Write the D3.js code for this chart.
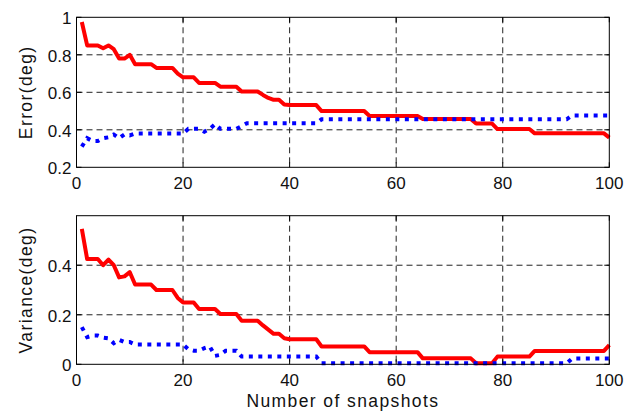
<!DOCTYPE html>
<html>
<head>
<meta charset="utf-8">
<script src="https://cdn.jsdelivr.net/npm/d3@7"></script>
<style>
    body { margin: 0; background: #fff; }
    text { font-family: "Liberation Sans", Arial, Helvetica, sans-serif; fill: #111; }
    .tick-label { font-size: 17px; }
    .axis-label { font-size: 17.5px; letter-spacing: 1.4px; }
    .grid-line { stroke: #222; stroke-width: 1; stroke-dasharray: 6,4; }
    .frame { fill: none; stroke: #000; stroke-width: 1; }
    .tick-mark { stroke: #000; stroke-width: 1; }
    .red-line { fill: none; stroke: #ff0000; stroke-width: 4; stroke-linejoin: round; }
    .blue-line { fill: none; stroke: #0000ff; stroke-width: 4; stroke-dasharray: 4,5.5; }
</style>
</head>
<body>
<script>
// Set chart dimensions
const width = 640;
const height = 414;
const margin = { left: 76.5, right: 30.7 };

// Snapshot numbers 1..100
const snapshots = d3.range(1, 101);

// Top panel: error (deg)
const errorRed = [
    0.975, 0.85, 0.85, 0.85, 0.835, 0.85, 0.83, 0.78, 0.78, 0.80,
    0.75, 0.75, 0.75, 0.75, 0.73, 0.73, 0.73, 0.73, 0.70, 0.68,
    0.68, 0.68, 0.65, 0.65, 0.65, 0.65, 0.63, 0.63, 0.63, 0.63,
    0.604, 0.604, 0.604, 0.604, 0.586, 0.57, 0.56, 0.56, 0.535, 0.532,
    0.532, 0.532, 0.532, 0.532, 0.532, 0.50, 0.50, 0.50, 0.50, 0.50,
    0.50, 0.50, 0.50, 0.50, 0.474, 0.474, 0.474, 0.474, 0.474, 0.474,
    0.474, 0.474, 0.474, 0.474, 0.458, 0.458, 0.458, 0.458, 0.458, 0.458,
    0.458, 0.458, 0.458, 0.458, 0.433, 0.433, 0.433, 0.433, 0.404, 0.404,
    0.404, 0.404, 0.404, 0.404, 0.404, 0.381, 0.381, 0.381, 0.381, 0.381,
    0.381, 0.381, 0.381, 0.381, 0.381, 0.381, 0.381, 0.381, 0.381, 0.358
];
const errorBlue = [
    0.31, 0.355, 0.34, 0.34, 0.355, 0.36, 0.375, 0.355, 0.375, 0.37,
    0.38, 0.38, 0.38, 0.38, 0.38, 0.38, 0.38, 0.38, 0.38, 0.38,
    0.405, 0.405, 0.405, 0.39, 0.405, 0.43, 0.405, 0.405, 0.405, 0.405,
    0.42, 0.435, 0.435, 0.435, 0.435, 0.435, 0.435, 0.435, 0.435, 0.435,
    0.435, 0.435, 0.435, 0.435, 0.435, 0.456, 0.456, 0.456, 0.456, 0.456,
    0.456, 0.456, 0.456, 0.456, 0.456, 0.456, 0.456, 0.456, 0.456, 0.456,
    0.456, 0.456, 0.456, 0.456, 0.456, 0.456, 0.456, 0.456, 0.456, 0.456,
    0.456, 0.456, 0.456, 0.456, 0.456, 0.456, 0.456, 0.456, 0.456, 0.456,
    0.456, 0.456, 0.456, 0.456, 0.456, 0.456, 0.456, 0.456, 0.456, 0.456,
    0.456, 0.456, 0.476, 0.476, 0.476, 0.476, 0.476, 0.476, 0.476, 0.476
];

// Bottom panel: variance (deg)
const varianceRed = [
    0.547, 0.425, 0.425, 0.425, 0.40, 0.423, 0.40, 0.351, 0.355, 0.372,
    0.322, 0.322, 0.322, 0.322, 0.30, 0.30, 0.30, 0.30, 0.268, 0.25,
    0.25, 0.25, 0.223, 0.223, 0.223, 0.223, 0.203, 0.203, 0.203, 0.203,
    0.176, 0.176, 0.176, 0.176, 0.157, 0.14, 0.123, 0.123, 0.105, 0.101,
    0.101, 0.101, 0.101, 0.101, 0.101, 0.072, 0.072, 0.072, 0.072, 0.072,
    0.072, 0.072, 0.072, 0.072, 0.049, 0.049, 0.049, 0.049, 0.049, 0.049,
    0.049, 0.049, 0.049, 0.049, 0.024, 0.024, 0.024, 0.024, 0.024, 0.024,
    0.024, 0.024, 0.024, 0.024, 0.004, 0.004, 0.004, 0.004, 0.031, 0.031,
    0.031, 0.031, 0.031, 0.031, 0.031, 0.054, 0.054, 0.054, 0.054, 0.054,
    0.054, 0.054, 0.054, 0.054, 0.054, 0.054, 0.054, 0.054, 0.054, 0.078
];
const varianceBlue = [
    0.15, 0.11, 0.116, 0.116, 0.108, 0.105, 0.085, 0.099, 0.09, 0.09,
    0.08, 0.08, 0.08, 0.08, 0.08, 0.08, 0.08, 0.08, 0.08, 0.08,
    0.061, 0.055, 0.055, 0.065, 0.072, 0.034, 0.038, 0.055, 0.055, 0.055,
    0.031, 0.031, 0.031, 0.031, 0.031, 0.031, 0.031, 0.031, 0.031, 0.031,
    0.031, 0.031, 0.031, 0.031, 0.031, 0.004, 0.004, 0.004, 0.004, 0.004,
    0.004, 0.004, 0.004, 0.004, 0.004, 0.004, 0.004, 0.004, 0.004, 0.004,
    0.004, 0.004, 0.004, 0.004, 0.004, 0.004, 0.004, 0.004, 0.004, 0.004,
    0.004, 0.004, 0.004, 0.004, 0.004, 0.004, 0.004, 0.004, 0.004, 0.004,
    0.004, 0.004, 0.004, 0.004, 0.004, 0.004, 0.004, 0.004, 0.004, 0.004,
    0.004, 0.004, 0.023, 0.023, 0.023, 0.023, 0.023, 0.023, 0.023, 0.023
];

// Tick labels
const xTicks = [0, 20, 40, 60, 80, 100];
const errorTicks = [0.2, 0.4, 0.6, 0.8, 1];
const varianceTicks = [0, 0.2, 0.4];

// Create the SVG container
const svg = d3.select("body")
    .append("svg")
    .attr("width", width)
    .attr("height", height);

// Shared x-scale for snapshot number
const xScale = d3.scaleLinear()
    .domain([0, 100])
    .range([margin.left, width - margin.right]);

// Draw one MATLAB-style panel
function drawPanel(cfg) {
    const yScale = d3.scaleLinear()
        .domain(cfg.domain)
        .range([cfg.bottom, cfg.top]);

    const g = svg.append("g");
    const x0 = xScale.range()[0];
    const x1 = xScale.range()[1];

    // Dashed grid
    g.selectAll(".vgrid")
        .data(xTicks.slice(1, -1))
        .join("line")
        .attr("class", "grid-line")
        .attr("x1", d => xScale(d))
        .attr("x2", d => xScale(d))
        .attr("y1", cfg.top)
        .attr("y2", cfg.bottom);

    g.selectAll(".hgrid")
        .data(cfg.ticks.filter(d => d > cfg.domain[0] && d < cfg.domain[1]))
        .join("line")
        .attr("class", "grid-line")
        .attr("x1", x0)
        .attr("x2", x1)
        .attr("y1", d => yScale(d))
        .attr("y2", d => yScale(d));

    // Data lines, blue drawn on top
    const line = d3.line()
        .x((d, i) => xScale(snapshots[i]))
        .y(d => yScale(d));

    g.append("path")
        .datum(cfg.red)
        .attr("class", "red-line")
        .attr("d", line);

    g.append("path")
        .datum(cfg.blue)
        .attr("class", "blue-line")
        .attr("d", line);

    // Inward tick marks on all four sides
    const tickLen = 5;
    xTicks.forEach(t => {
        g.append("line").attr("class", "tick-mark")
            .attr("x1", xScale(t)).attr("x2", xScale(t))
            .attr("y1", cfg.bottom).attr("y2", cfg.bottom - tickLen);
        g.append("line").attr("class", "tick-mark")
            .attr("x1", xScale(t)).attr("x2", xScale(t))
            .attr("y1", cfg.top).attr("y2", cfg.top + tickLen);
    });
    cfg.ticks.forEach(t => {
        g.append("line").attr("class", "tick-mark")
            .attr("x1", x0).attr("x2", x0 + tickLen)
            .attr("y1", yScale(t)).attr("y2", yScale(t));
        g.append("line").attr("class", "tick-mark")
            .attr("x1", x1).attr("x2", x1 - tickLen)
            .attr("y1", yScale(t)).attr("y2", yScale(t));
    });

    // Axes box
    g.append("rect")
        .attr("class", "frame")
        .attr("x", x0)
        .attr("y", cfg.top)
        .attr("width", x1 - x0)
        .attr("height", cfg.bottom - cfg.top);

    // Tick labels
    g.selectAll(".xlabel")
        .data(xTicks)
        .join("text")
        .attr("class", "tick-label")
        .attr("x", d => xScale(d))
        .attr("y", cfg.bottom + 21.5)
        .attr("text-anchor", "middle")
        .text(d => d);

    g.selectAll(".ylabel")
        .data(cfg.ticks)
        .join("text")
        .attr("class", "tick-label")
        .attr("x", x0 - 5)
        .attr("y", d => yScale(d) + 1)
        .attr("dy", "0.35em")
        .attr("text-anchor", "end")
        .text(d => d);

    // Y-axis label
    g.append("text")
        .attr("class", "axis-label")
        .attr("transform", "rotate(-90)")
        .attr("x", -(cfg.top + cfg.bottom) / 2)
        .attr("y", 32)
        .attr("text-anchor", "middle")
        .text(cfg.label);
}

drawPanel({
    domain: [0.2, 1],
    top: 17.3,
    bottom: 167.3,
    ticks: errorTicks,
    red: errorRed,
    blue: errorBlue,
    label: "Error(deg)"
});

drawPanel({
    domain: [0, 0.6],
    top: 215.7,
    bottom: 364.3,
    ticks: varianceTicks,
    red: varianceRed,
    blue: varianceBlue,
    label: "Variance(deg)"
});

// Add the x-axis label
svg.append("text")
    .attr("class", "axis-label")
    .attr("x", (xScale.range()[0] + xScale.range()[1]) / 2)
    .attr("y", 407)
    .attr("text-anchor", "middle")
    .text("Number of snapshots");
</script>
</body>
</html>
